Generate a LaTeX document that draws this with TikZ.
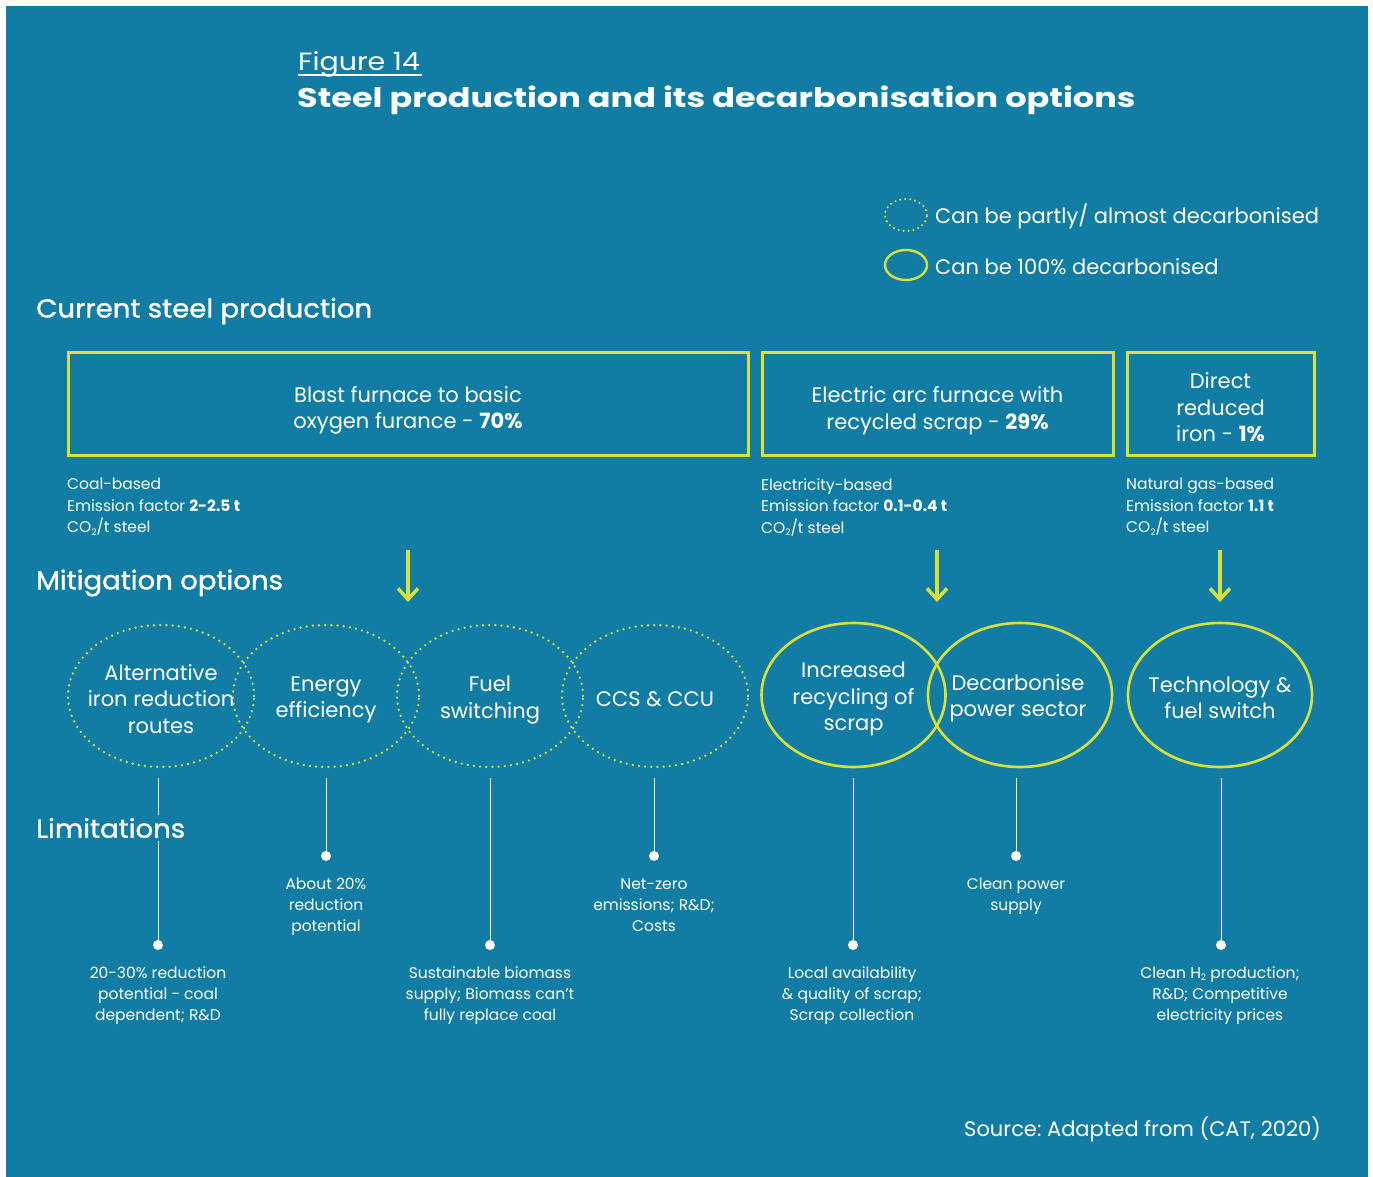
\documentclass[tikz,border=0pt]{standalone}
\usepackage{fontspec}
\setmainfont{Poppins}
\newfontfamily\titlefont[FakeStretch=1.24]{Poppins}
\newfontfamily\figfont[FakeStretch=1.14]{Poppins}
\newfontfamily\headfont[FakeStretch=1.06,FakeBold=1.2]{Poppins}
\usetikzlibrary{arrows.meta,shapes.geometric}
\definecolor{bg}{RGB}{17,125,165}
\definecolor{lime}{RGB}{218,224,58}
\newcommand\fsz[2]{\fontsize{#1}{#2}\selectfont}
\newcommand\cotwo{CO\raisebox{-0.25ex}{\fsz{9}{9}2}}
\newcommand\htwo{H\raisebox{-0.25ex}{\fsz{9}{9}2}}
\frenchspacing

\begin{document}
\begin{tikzpicture}[x=1pt,y=-1pt,
  txt/.style={text=white,inner sep=0pt},
  heading/.style={txt,anchor=west,font=\headfont\fsz{26}{30}},
  prodbox/.style={draw=lime,line width=3pt,minimum height=103pt,inner sep=0pt},
  boxtext/.style={txt,align=center,font=\fsz{21}{26.5}},
  desc/.style={txt,anchor=west,align=left,font=\fsz{15.5}{21.5}},
  partly/.style={ellipse,draw=lime,line width=2.6pt,line cap=round,
    dash pattern=on 0pt off 6.2pt,minimum width=186pt,minimum height=142pt,
    inner sep=0pt},
  full/.style={ellipse,draw=lime,line width=2.6pt,minimum width=184pt,
    minimum height=144pt,inner sep=0pt},
  otext/.style={txt,align=center,font=\fsz{21}{26.5}},
  flow/.style={draw=lime,line width=3.5pt,
    -{Straight Barb[length=11pt,width=20pt,line width=3.5pt]}},
  stem/.style={draw=white,line width=0.9pt},
  dot/.style={circle,fill=white,inner sep=0pt,minimum size=10pt},
  limit/.style={txt,align=center,font=\fsz{15.5}{21}},
]
\useasboundingbox (0,0) rectangle (1373,1177);
\fill[white] (0,0) rectangle (1373,1177);
\fill[bg] (6,6) rectangle (1368,1177);

% title block
\node[txt,anchor=base west,font=\figfont\fsz{25}{28}] (fig) at (298,71) {Figure 14};
\draw[white,line width=1.3pt] (fig.base west) ++(0,4) -- ++(124,0);
\node[txt,anchor=base west,font=\titlefont\fsz{27}{30}\bfseries] (title) at (297,108)
  {Steel production and its decarbonisation options};

% legend
\node[ellipse,draw=lime,line width=2.4pt,line cap=round,dash pattern=on 0pt off 5pt,
  minimum width=42pt,minimum height=32pt,inner sep=0pt] (lgA) at (906,215) {};
\node[ellipse,draw=lime,line width=2.4pt,minimum width=42pt,minimum height=30pt,
  inner sep=0pt] (lgB) at (906,265) {};
\node[txt,anchor=west,font=\fsz{21}{24}] (lgAt) at (935,216) {Can be partly/ almost decarbonised};
\node[txt,anchor=west,font=\fsz{21}{24}] (lgBt) at (935,267) {Can be 100\% decarbonised};

% section headings
\node[heading] (hcur) at (36,311) {Current steel production};
\node[heading] (hmit) at (36,583) {Mitigation options};

% production routes
\node[prodbox,minimum width=680pt] (bf) at (408,403.5) {};
\node[prodbox,minimum width=351pt] (eaf) at (937.5,403.5) {};
\node[prodbox,minimum width=187pt] (dri) at (1220.5,403.5) {};
\node[boxtext] (bft) at ([yshift=-7pt]bf.center)
  {Blast furnace to basic\\oxygen furance - \textbf{70\%}};
\node[boxtext] (eaft) at ([yshift=-7pt]eaf.center)
  {Electric arc furnace with\\recycled scrap - \textbf{29\%}};
\node[boxtext] (drit) at ([yshift=-4pt]dri.center)
  {Direct\\reduced\\iron - \textbf{1\%}};

\node[desc] (bfd) at (67,507)
  {Coal-based\\Emission factor \textbf{2-2.5 t}\\\cotwo/t steel};
\node[desc] (eafd) at (761,507)
  {Electricity-based\\Emission factor \textbf{0.1-0.4 t}\\\cotwo/t steel};
\node[desc] (drid) at (1126,507)
  {Natural gas-based\\Emission factor \textbf{1.1 t}\\\cotwo/t steel};

% arrows towards the options
\coordinate (aBt) at (408,550); \coordinate (aBb) at (408,602);
\coordinate (aEt) at (937,550); \coordinate (aEb) at (937,602);
\coordinate (aDt) at (1220,550); \coordinate (aDb) at (1220,602);
\draw[flow] (aBt) -- (aBb);
\draw[flow] (aEt) -- (aEb);
\draw[flow] (aDt) -- (aDb);

% mitigation options
\node[partly] (o1) at (161,696) {};
\node[partly] (o2) at (326,696) {};
\node[partly] (o3) at (490,696) {};
\node[partly] (o4) at (655,696) {};
\node[full] (o5) at (853.5,695) {};
\node[full] (o6) at (1020,695) {};
\node[full] (o7) at (1220,695) {};
\node[otext] (o1t) at ([yshift=-3pt]o1.center) {Alternative\\iron reduction\\routes};
\node[otext] (o2t) at ([yshift=-4pt]o2.center) {Energy\\efficiency};
\node[otext] (o3t) at ([yshift=-4pt]o3.center) {Fuel\\switching};
\node[otext] (o4t) at ([yshift=-3pt]o4.center) {CCS \& CCU};
\node[otext] (o5t) at ([yshift=-4pt]o5.center) {Increased\\recycling of\\scrap};
\node[otext] (o6t) at ([yshift=-3pt,xshift=-2pt]o6.center) {Decarbonise\\power sector};
\node[otext] (o7t) at ([yshift=-3pt]o7.center) {Technology \&\\fuel switch};

% limitation markers
\node[dot] (d1) at (158,945) {};
\node[dot] (d2) at (326,856) {};
\node[dot] (d3) at (490,945) {};
\node[dot] (d4) at (654,856) {};
\node[dot] (d5) at (853,945) {};
\node[dot] (d6) at (1016,856) {};
\node[dot] (d7) at (1221,945) {};
\foreach \d in {1,...,7}{
  \draw[stem] (d\d.center) -- (d\d.center |- 0,778);
}

\node[heading,fill=bg,inner ysep=3pt,inner xsep=0pt] (hlim) at (36,828) {Limitations};

\node[limit,anchor=north] (l1) at (158,966) {20-30\% reduction\\potential - coal\\dependent; R\&D};
\node[limit,anchor=north] (l2) at (326,878) {About 20\%\\reduction\\potential};
\node[limit,anchor=north] (l3) at (490,966) {Sustainable biomass\\supply; Biomass can’t\\fully replace coal};
\node[limit,anchor=north] (l4) at (654,878) {Net-zero\\emissions; R\&D;\\Costs};
\node[limit,anchor=north] (l5) at (852,966) {Local availability\\\& quality of scrap;\\Scrap collection};
\node[limit,anchor=north] (l6) at (1016,878) {Clean power\\supply};
\node[limit,anchor=north] (l7) at (1220,966) {Clean \htwo{} production;\\R\&D; Competitive\\electricity prices};

% source
\node[txt,anchor=east,font=\fsz{21}{24}] (src) at (1321,1129) {Source: Adapted from (CAT, 2020)};
\end{tikzpicture}
\end{document}
